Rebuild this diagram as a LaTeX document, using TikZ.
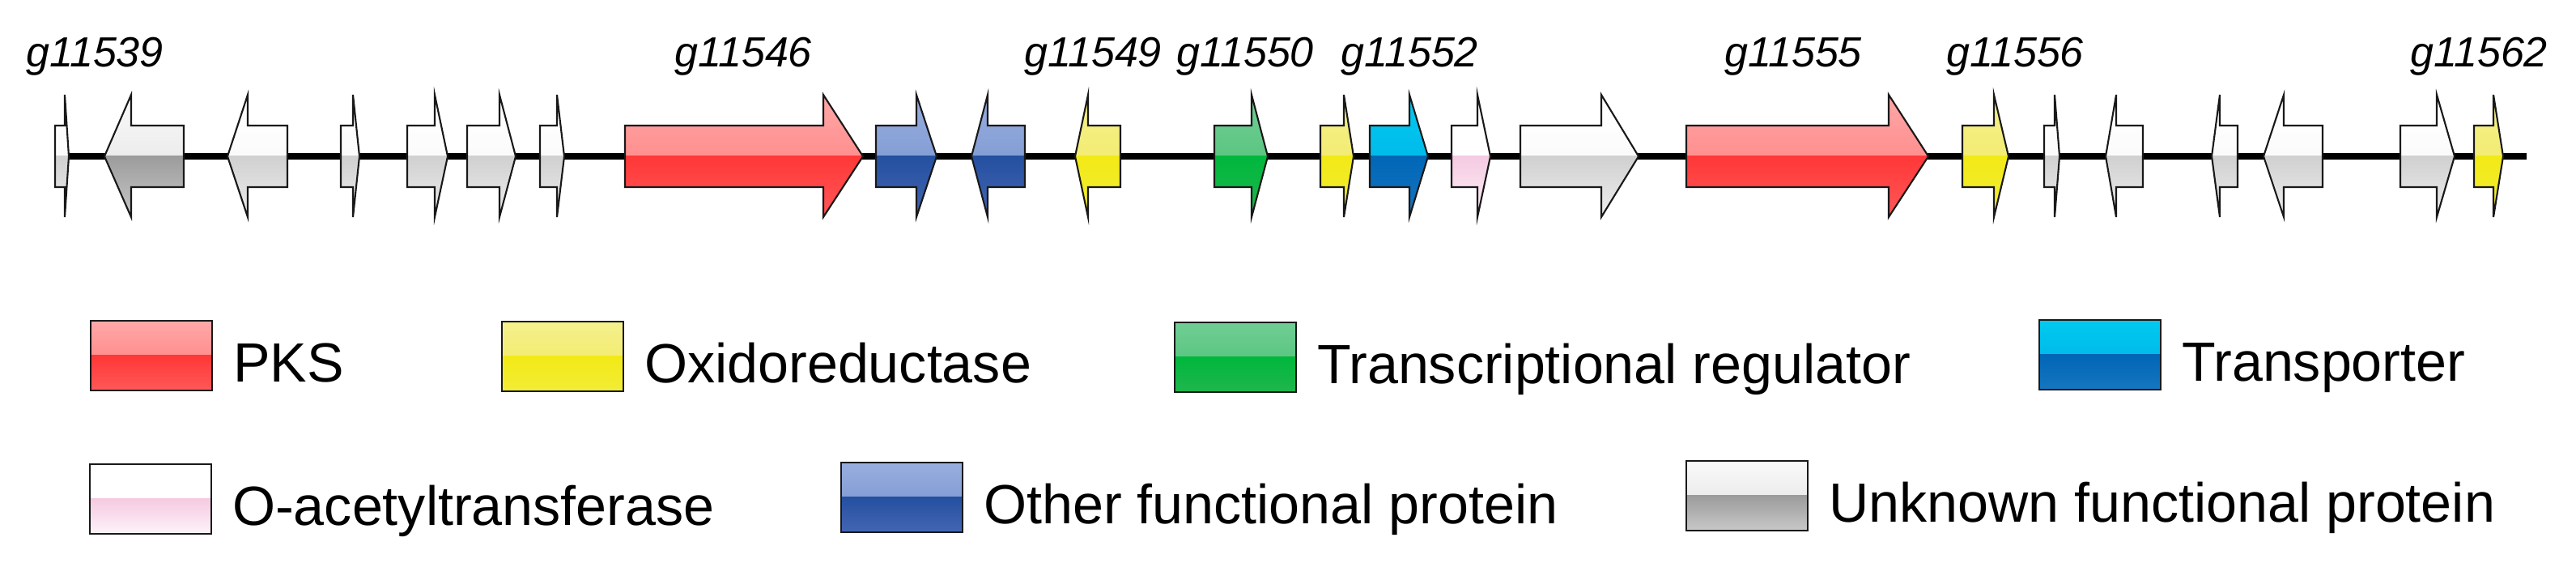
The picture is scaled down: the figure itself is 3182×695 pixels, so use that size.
\documentclass[tikz,border=0pt]{standalone}
\usepackage{fontspec}
\setmainfont{Liberation Sans}
\usetikzlibrary{positioning}
\usepackage{xcolor}
% gloss colours: top of upper half, middle, lower half, bottom
\definecolor{pksTop}{RGB}{255,168,168}
\definecolor{pksMid}{RGB}{255,118,118}
\definecolor{pksBase}{RGB}{255,55,55}
\definecolor{pksLow}{RGB}{255,88,88}
\definecolor{oxiTop}{RGB}{245,240,140}
\definecolor{oxiMid}{RGB}{240,232,92}
\definecolor{oxiBase}{RGB}{242,234,22}
\definecolor{oxiLow}{RGB}{242,236,55}
\definecolor{regTop}{RGB}{112,206,148}
\definecolor{regMid}{RGB}{72,190,112}
\definecolor{regBase}{RGB}{0,183,60}
\definecolor{regLow}{RGB}{32,182,78}
\definecolor{traTop}{RGB}{0,202,240}
\definecolor{traMid}{RGB}{0,172,228}
\definecolor{traBase}{RGB}{0,102,182}
\definecolor{traLow}{RGB}{22,118,192}
\definecolor{othTop}{RGB}{152,174,222}
\definecolor{othMid}{RGB}{112,142,205}
\definecolor{othBase}{RGB}{36,80,160}
\definecolor{othLow}{RGB}{68,102,178}
\definecolor{oacTop}{RGB}{255,255,255}
\definecolor{oacMid}{RGB}{255,255,255}
\definecolor{oacBase}{RGB}{245,202,226}
\definecolor{oacLow}{RGB}{253,243,249}
\definecolor{unkTop}{RGB}{255,255,255}
\definecolor{unkMid}{RGB}{247,247,247}
\definecolor{unkBase}{RGB}{208,208,208}
\definecolor{unkLow}{RGB}{238,238,238}
\definecolor{dkuTop}{RGB}{250,250,250}
\definecolor{dkuMid}{RGB}{222,222,222}
\definecolor{dkuBase}{RGB}{156,156,156}
\definecolor{dkuLow}{RGB}{200,200,200}
\tikzset{
  gloss/.style  = {path picture={
      \shade[top color=#1Top, bottom color=#1Mid]
        (path picture bounding box.north west) rectangle (path picture bounding box.east);
      \shade[top color=#1Base, bottom color=#1Low]
        (path picture bounding box.west) rectangle (path picture bounding box.south east);
    }},
  gene/.style   = {draw=black!90, line width=0.6pt, line join=miter, gloss=#1},
  legbox/.style = {draw=black!90, line width=0.8pt, gloss=#1,
                   minimum width=1.5cm, minimum height=0.86cm, inner sep=0pt},
}

\begin{document}
\begin{tikzpicture}[
    x=0.01cm, y=-0.01cm,
    backbone/.style={line width=2pt},
    tag/.style={anchor=base, inner sep=0pt, font=\itshape\fontsize{14.8}{17}\selectfont},
    legtext/.style={anchor=base west, inner sep=0pt, xshift=0.24cm, yshift=-0.32cm,
                    font=\fontsize{19.4}{23}\selectfont}
]
\useasboundingbox (0,0) rectangle (3182,695);
\coordinate (locusL) at (70,193);
\coordinate (locusR) at (3121,193);
\draw[backbone] (locusL) -- (locusR);
% genes: start / head base / tip / class
\foreach \s/\h/\t/\c in {
    68/80/85/unk, 227/162/129/dku, 355/306/281/unk, 421/436/444/unk,
    503/537/553/unk, 577/617/637/unk, 667/688/697/unk, 772/1017/1066/pks,
    1082/1132/1157/oth, 1266/1220/1200/oth, 1384/1344/1328/oxi,
    1500/1546/1566/reg, 1631/1660/1672/oxi, 1692/1741/1764/tra,
    1793/1825/1841/oac, 1878/1978/2024/unk, 2083/2333/2382/pks,
    2424/2463/2481/oxi, 2525/2538/2544/unk, 2647/2614/2601/unk,
    2764/2742/2732/unk, 2869/2821/2796/unk, 2965/3010/3032/unk,
    3056/3080/3092/oxi
}{
    \draw[gene/.expanded=\c] (\s,155) -- (\h,155) -- (\h,117) -- (\t,193)
        -- (\h,268) -- (\h,231) -- (\s,231) -- cycle;
}
\foreach \x/\id in {117/11539, 918/11546, 1350/11549, 1538/11550,
                    1741/11552, 2215/11555, 2489/11556, 3062/11562} {
    \node[tag] (t\id) at (\x,83) {g\id};
}
% legend
\node[legbox=pks] (kpks) at (187,439) {};
\node[legbox=oxi] (koxi) at (695,440) {};
\node[legbox=reg] (kreg) at (1526,441) {};
\node[legbox=tra] (ktra) at (2594,438) {};
\node[legbox=oac] (koac) at (186,616) {};
\node[legbox=oth] (koth) at (1114,614) {};
\node[legbox=dku] (kunk) at (2158,612) {};
\node[legtext] (lpks) at (kpks.east) {PKS};
\node[legtext] (loxi) at (koxi.east) {Oxidoreductase};
\node[legtext] (lreg) at (kreg.east) {Transcriptional regulator};
\node[legtext] (ltra) at (ktra.east) {Transporter};
\node[legtext] (loac) at (koac.east) {O-acetyltransferase};
\node[legtext] (loth) at (koth.east) {Other functional protein};
\node[legtext] (lunk) at (kunk.east) {Unknown functional protein};
\end{tikzpicture}
\end{document}
